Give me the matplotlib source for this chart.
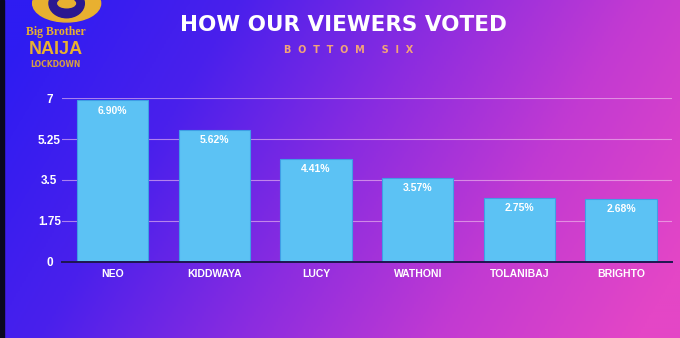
import numpy as np
import matplotlib
matplotlib.use("Agg")
import matplotlib.pyplot as plt
from matplotlib.colors import LinearSegmentedColormap
from matplotlib.patches import Ellipse, Circle, Rectangle

names = ["NEO", "KIDDWAYA", "LUCY", "WATHONI", "TOLANIBAJ", "BRIGHTO"]
votes = [6.90, 5.62, 4.41, 3.57, 2.75, 2.68]
yticks = [0, 1.75, 3.5, 5.25, 7]
ytick_labels = ["0", "1.75", "3.5", "5.25", "7"]

fig = plt.figure(figsize=(6.8, 3.38), dpi=100)

# purple-to-pink background wash
bg = fig.add_axes([0, 0, 1, 1], zorder=-10)
bg.set_axis_off()
xx, yy = np.meshgrid(np.linspace(0, 1, 340), np.linspace(0, 1, 170))
t = np.clip(0.85 * xx + 0.25 * yy - 0.05, 0, 1)
cmap = LinearSegmentedColormap.from_list(
    "bbn", ["#2e1cf2", "#4a20ec", "#8a2ce0", "#c23ad2", "#e446c6"])
bg.imshow(t, cmap=cmap, aspect="auto", extent=[0, 1, 0, 1], origin="upper")
bg.add_patch(Rectangle((0, 0), 0.006, 1, color="#0a0820", transform=bg.transAxes))
bg.set_xlim(0, 1)
bg.set_ylim(0, 1)

# logo
gold = "#e8b030"
bg.add_patch(Ellipse((0.098, 0.99), 0.1, 0.11, color=gold, transform=bg.transAxes))
bg.add_patch(Ellipse((0.098, 0.99), 0.052, 0.085, color="#2a1890", transform=bg.transAxes))
bg.add_patch(Circle((0.098, 0.99), 0.013, color=gold, transform=bg.transAxes))
fig.text(0.082, 0.905, "Big Brother", color=gold, fontsize=8.5, ha="center",
         va="center", family="Liberation Serif", weight="bold")
fig.text(0.082, 0.853, "NAIJA", color=gold, fontsize=13, ha="center",
         va="center", family="Liberation Sans", weight="bold")
fig.text(0.082, 0.808, "LOCKDOWN", color="#d8a040", fontsize=5.5, ha="center",
         va="center", family="DejaVu Sans", weight="bold")

fig.text(0.505, 0.925, "HOW OUR VIEWERS VOTED", color="white", fontsize=15.5,
         ha="center", va="center", family="DejaVu Sans", weight="bold")
fig.text(0.512, 0.853, "B  O  T  T  O  M     S  I  X", color="#f2a478",
         fontsize=7, ha="center", va="center", family="DejaVu Sans",
         weight="bold")

ax = fig.add_axes([0.091, 0.225, 0.897, 0.485])
ax.set_facecolor("none")
x = np.arange(len(names))
bars = ax.bar(x, votes, width=0.7, color="#5cc2f4", edgecolor="#3f9ee6",
              linewidth=0.8, zorder=3)
for xi, v in zip(x, votes):
    ax.text(xi, v - 0.22, f"{v:.2f}%", color="white", fontsize=7.5,
            ha="center", va="top", family="Liberation Sans", weight="bold",
            zorder=4)

ax.set_xlim(-0.5, 5.5)
ax.set_ylim(0, 7)
ax.set_yticks(yticks)
ax.set_yticklabels(ytick_labels, color="white", fontsize=8.5,
                   family="Liberation Sans", weight="bold", ha="center")
ax.tick_params(axis="y", length=0, pad=9)
ax.set_xticks(x)
ax.set_xticklabels(names, color="white", fontsize=7.5,
                   family="Liberation Sans", weight="bold")
ax.tick_params(axis="x", length=0, pad=5)
ax.grid(axis="y", color="#f4c4f0", alpha=0.6, linewidth=0.8, zorder=0)
for s in ["top", "right", "left"]:
    ax.spines[s].set_visible(False)
ax.spines["bottom"].set_color("#1e1650")
ax.spines["bottom"].set_linewidth(1.4)
ax.spines["bottom"].set_zorder(5)

fig.savefig("out.png", dpi=100)
